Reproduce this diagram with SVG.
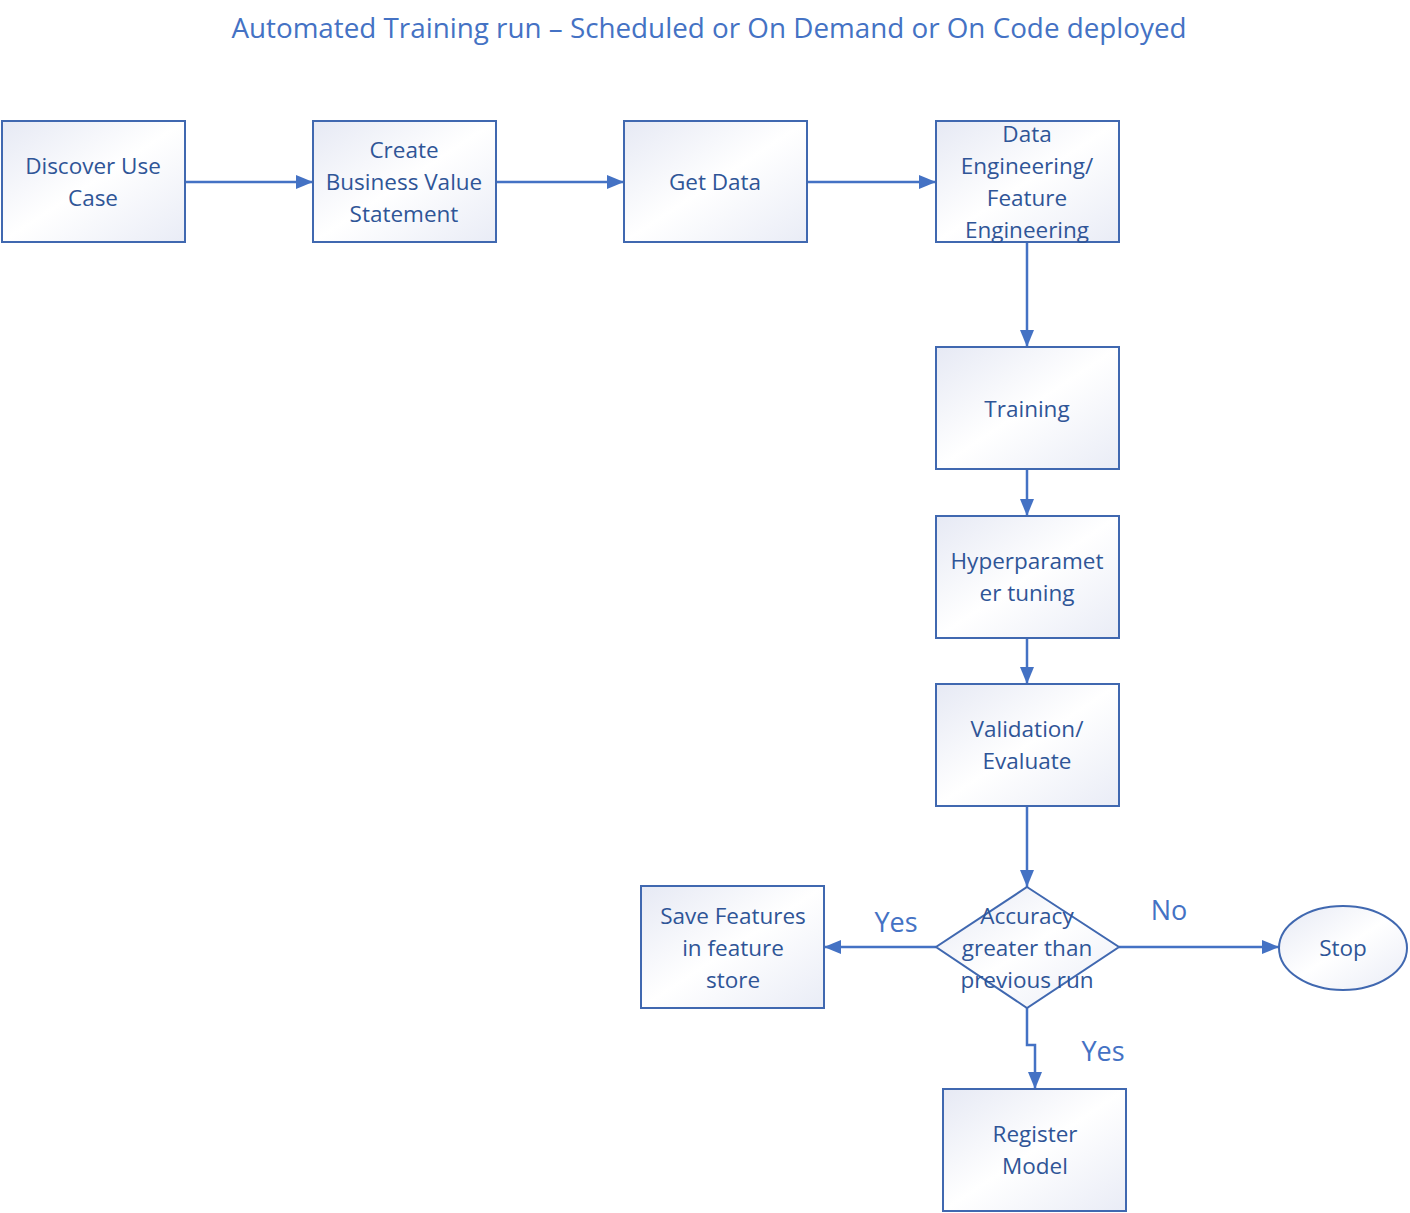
<svg xmlns="http://www.w3.org/2000/svg" width="1410" height="1213" viewBox="0 0 1410 1213">
<style>
.n{fill:url(#g);stroke:#4068B0;stroke-width:2}
.t{font-family:"Open Sans","Noto Sans",sans-serif;font-size:22.5px;fill:#2F5597;text-anchor:middle}
.c{fill:none;stroke:#4472C4;stroke-width:2.5}
.lbl{font-family:"Open Sans","Noto Sans",sans-serif;font-size:27px;fill:#4472C4;text-anchor:middle}
</style>
<defs>
<linearGradient id="g" x1="0" y1="0" x2="1" y2="1">
<stop offset="0" stop-color="#E6E9F4"/>
<stop offset="0.5" stop-color="#FFFFFF"/>
<stop offset="1" stop-color="#E9ECF6"/>
</linearGradient>
<marker id="a" markerWidth="17" markerHeight="14" refX="17" refY="7" orient="auto" markerUnits="userSpaceOnUse">
<path d="M0,0 L17,7 L0,14 Z" fill="#4472C4"/>
</marker>
</defs>
<rect width="1410" height="1213" fill="#FFFFFF"/>
<text x="709" y="38" class="lbl" style="font-size:27.8px">Automated Training run – Scheduled or On Demand or On Code deployed</text>
<g id="connectors">
<path class="c" d="M185,182 H313" marker-end="url(#a)"/>
<path class="c" d="M496,182 H624" marker-end="url(#a)"/>
<path class="c" d="M807,182 H936" marker-end="url(#a)"/>
<path class="c" d="M1027,242 V347" marker-end="url(#a)"/>
<path class="c" d="M1027,469 V516" marker-end="url(#a)"/>
<path class="c" d="M1027,638 V684" marker-end="url(#a)"/>
<path class="c" d="M1027,806 V887" marker-end="url(#a)"/>
<path class="c" d="M936,947 H824" marker-end="url(#a)"/>
<path class="c" d="M1119,947 H1279" marker-end="url(#a)"/>
<path class="c" d="M1027,1008 V1045 H1035 V1089" marker-end="url(#a)"/>
<text x="896" y="932" class="lbl">Yes</text>
<text x="1169" y="920" class="lbl">No</text>
<text x="1103" y="1061" class="lbl">Yes</text>
</g>
<g id="discover"><rect class="n" x="2" y="121" width="183" height="121"/><text class="t" x="93" y="174">Discover Use</text><text class="t" x="93" y="206">Case</text></g>
<g id="business"><rect class="n" x="313" y="121" width="183" height="121"/><text class="t" x="404" y="158">Create</text><text class="t" x="404" y="190">Business Value</text><text class="t" x="404" y="222">Statement</text></g>
<g id="getdata"><rect class="n" x="624" y="121" width="183" height="121"/><text class="t" x="715" y="190">Get Data</text></g>
<g id="dataeng"><rect class="n" x="936" y="121" width="183" height="121"/><text class="t" x="1027" y="142">Data</text><text class="t" x="1027" y="174">Engineering/</text><text class="t" x="1027" y="206">Feature</text><text class="t" x="1027" y="238">Engineering</text></g>
<g id="training"><rect class="n" x="936" y="347" width="183" height="122"/><text class="t" x="1027" y="417">Training</text></g>
<g id="hyper"><rect class="n" x="936" y="516" width="183" height="122"/><text class="t" x="1027" y="569">Hyperparamet</text><text class="t" x="1027" y="601">er tuning</text></g>
<g id="validation"><rect class="n" x="936" y="684" width="183" height="122"/><text class="t" x="1027" y="737">Validation/</text><text class="t" x="1027" y="769">Evaluate</text></g>
<g id="decision"><path class="n" d="M1027,887 L1119,947 L1027,1008 L936,947 Z"/><text class="t" x="1027" y="924">Accuracy</text><text class="t" x="1027" y="956">greater than</text><text class="t" x="1027" y="988">previous run</text></g>
<g id="stop"><ellipse class="n" cx="1343" cy="948" rx="64" ry="42"/><text class="t" x="1343" y="956">Stop</text></g>
<g id="save"><rect class="n" x="641" y="886" width="183" height="122"/><text class="t" x="733" y="924">Save Features</text><text class="t" x="733" y="956">in feature</text><text class="t" x="733" y="988">store</text></g>
<g id="register"><rect class="n" x="943" y="1089" width="183" height="122"/><text class="t" x="1035" y="1142">Register</text><text class="t" x="1035" y="1174">Model</text></g>
</svg>
